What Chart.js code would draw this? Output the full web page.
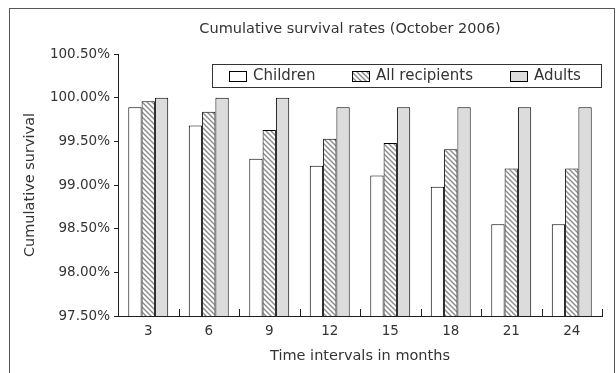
<!DOCTYPE html>
<html>
<head>
<meta charset="utf-8">
<script src="https://cdn.jsdelivr.net/npm/chart.js@4/dist/chart.umd.min.js"></script>
<style>
  html, body { margin: 0; padding: 0; background: #fff; }
  #wrap { width: 616px; height: 373px; }
</style>
</head>
<body>
<div id="wrap"><canvas id="c" width="616" height="373"></canvas></div>
<script>
// Survival data by follow-up interval
const months = ['3', '6', '9', '12', '15', '18', '21', '24'];
const children = [99.89, 99.68, 99.30, 99.22, 99.11, 98.98, 98.55, 98.55];
const allRecipients = [99.96, 99.84, 99.63, 99.53, 99.48, 99.41, 99.19, 99.19];
const adults = [100.00, 100.00, 100.00, 99.89, 99.89, 99.89, 99.89, 99.89];
const yTicks = [97.5, 98.0, 98.5, 99.0, 99.5, 100.0, 100.5];

const chartTitle = 'Cumulative survival rates (October 2006)';
const xTitle = 'Time intervals in months';
const yTitle = 'Cumulative survival';

const FONT = '"DejaVu Sans", Lato, sans-serif';
const TEXT = '#333333';
const LINE = '#1e1e1e';

// Diagonal hatch fill for the "All recipients" series
function makeHatch() {
  const s = 5;
  const t = document.createElement('canvas');
  t.width = s; t.height = s;
  const g = t.getContext('2d');
  g.fillStyle = '#ffffff';
  g.fillRect(0, 0, s, s);
  g.strokeStyle = '#8a8a8a';
  g.lineWidth = 1.4;
  g.beginPath();
  g.moveTo(-1, -1); g.lineTo(s + 1, s + 1);
  g.moveTo(-1, s - 1); g.lineTo(1, s + 1);
  g.moveTo(s - 1, -1); g.lineTo(s + 1, 1);
  g.stroke();
  return g.createPattern(t, 'repeat');
}
const hatch = makeHatch();

// Frame, title, boxed legend and inward category ticks
const decorations = {
  id: 'decorations',
  afterDraw(chart) {
    const ctx = chart.ctx;
    const area = chart.chartArea;
    const x = chart.scales.x;
    ctx.save();

    // outer frame
    ctx.strokeStyle = '#555';
    ctx.lineWidth = 1;
    ctx.strokeRect(9.5, 8.5, 605, 400);

    // title
    ctx.fillStyle = TEXT;
    ctx.font = '14.5px ' + FONT;
    ctx.textAlign = 'center';
    ctx.textBaseline = 'middle';
    ctx.fillText(chartTitle, 350, 29);

    // category boundary ticks pointing into the plot
    ctx.strokeStyle = LINE;
    ctx.lineWidth = 1;
    ctx.beginPath();
    const n = months.length;
    const step = (area.right - area.left) / n;
    for (let i = 1; i <= n; i++) {
      const px = Math.round(x.getPixelForValue(i - 1) + step / 2) + 0.5;
      ctx.moveTo(px, area.bottom);
      ctx.lineTo(px, area.bottom - 7);
    }
    ctx.stroke();

    // legend box
    const lx = 212.5, ly = 64.5, lw = 389, lh = 23;
    ctx.fillStyle = '#fff';
    ctx.fillRect(lx, ly, lw, lh);
    ctx.strokeStyle = '#333';
    ctx.strokeRect(lx, ly, lw, lh);
    const items = chart.data.datasets;
    const swatchX = [229, 352, 510];
    ctx.font = '15px ' + FONT;
    ctx.textAlign = 'left';
    items.forEach((ds, i) => {
      const sx = swatchX[i] + 0.5, sy = ly + 7;
      ctx.fillStyle = ds.backgroundColor;
      ctx.fillRect(sx, sy, 17, 10);
      ctx.strokeStyle = '#000';
      ctx.strokeRect(sx, sy, 17, 10);
      ctx.fillStyle = TEXT;
      ctx.fillText(ds.label, swatchX[i] + 24, ly + lh / 2 + 0.5);
    });

    ctx.restore();
  }
};

new Chart(document.getElementById('c'), {
  type: 'bar',
  data: {
    labels: months,
    datasets: [
      { label: 'Children', data: children, backgroundColor: '#ffffff', borderColor: '#000', borderWidth: 1, borderSkipped: false },
      { label: 'All recipients', data: allRecipients, backgroundColor: hatch, borderColor: '#000', borderWidth: 1, borderSkipped: false },
      { label: 'Adults', data: adults, backgroundColor: '#dcdcdc', borderColor: '#000', borderWidth: 1, borderSkipped: false }
    ]
  },
  options: {
    responsive: false,
    animation: false,
    devicePixelRatio: 1,
    categoryPercentage: 0.66,
    barPercentage: 1.0,
    layout: { padding: { left: 14, top: 54, right: 14, bottom: 0 } },
    plugins: {
      legend: { display: false },
      title: { display: false },
      tooltip: { enabled: false }
    },
    scales: {
      x: {
        afterFit(s) { s.height = 57; },
        grid: { display: false, drawTicks: false, tickLength: 0 },
        border: { display: true, color: LINE, width: 1 },
        ticks: { color: TEXT, font: { family: FONT, size: 13.5 }, padding: 7, maxRotation: 0 },
        title: { display: true, text: xTitle, color: TEXT, font: { family: FONT, size: 14.5 }, padding: { top: 0, bottom: 8 } }
      },
      y: {
        min: 97.5,
        max: 100.5,
        afterFit(s) { s.width = 104; },
        afterBuildTicks(s) { s.ticks = yTicks.map(v => ({ value: v })); },
        grid: { display: true, drawOnChartArea: false, drawTicks: true, tickLength: 4, color: LINE },
        border: { display: true, color: LINE, width: 1 },
        ticks: {
          color: TEXT,
          font: { family: FONT, size: 13.5 },
          padding: 4,
          callback: v => Number(v).toFixed(2) + '%'
        },
        title: { display: true, text: yTitle, color: TEXT, font: { family: FONT, size: 14.5 }, padding: { top: 8, bottom: 0 } }
      }
    }
  },
  plugins: [decorations]
});
</script>
</body>
</html>
